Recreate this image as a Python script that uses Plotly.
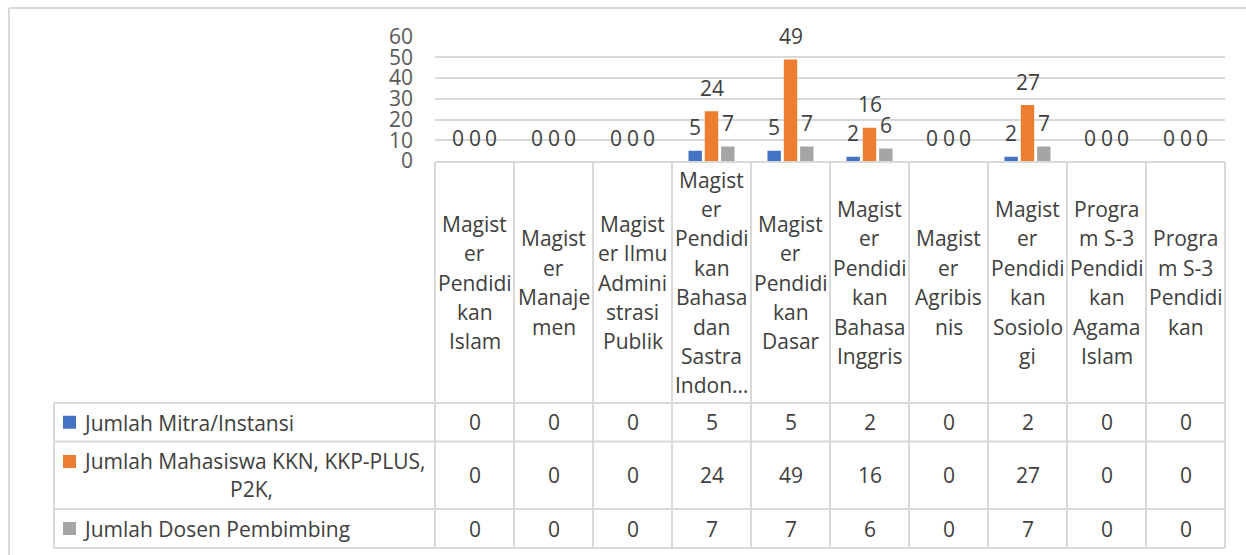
import plotly.graph_objects as go

W, H = 1246, 555

# ---------------- data ----------------
categories = [
    "Magist<br>er<br>Pendidi<br>kan<br>Islam",
    "Magist<br>er<br>Manaje<br>men",
    "Magist<br>er Ilmu<br>Admini<br>strasi<br>Publik",
    "Magist<br>er<br>Pendidi<br>kan<br>Bahasa<br>dan<br>Sastra<br>Indon…",
    "Magist<br>er<br>Pendidi<br>kan<br>Dasar",
    "Magist<br>er<br>Pendidi<br>kan<br>Bahasa<br>Inggris",
    "Magist<br>er<br>Agribis<br>nis",
    "Magist<br>er<br>Pendidi<br>kan<br>Sosiolo<br>gi",
    "Progra<br>m S-3<br>Pendidi<br>kan<br>Agama<br>Islam",
    "Progra<br>m S-3<br>Pendidi<br>kan",
]
series_names = [
    "Jumlah Mitra/Instansi",
    "Jumlah Mahasiswa KKN, KKP-PLUS,<br>P2K,",
    "Jumlah Dosen Pembimbing",
]
mitra = [0, 0, 0, 5, 5, 2, 0, 2, 0, 0]
mahasiswa = [0, 0, 0, 24, 49, 16, 0, 27, 0, 0]
dosen = [0, 0, 0, 7, 7, 6, 0, 7, 0, 0]
series_values = [mitra, mahasiswa, dosen]
series_colors = ["#4472C4", "#ED7D31", "#A5A5A5"]
y_ticks = [0, 10, 20, 30, 40, 50, 60]

# ---------------- layout helpers ----------------
def px(x):
    return x / W

def py(y):
    return 1 - y / H

FONT = "Open Sans"
FS = 21
TXT = "#404040"
GRID = "#D9D9D9"

plot_left, plot_right = 435, 1225
y_zero_px, y_top_px = 161, 36.7
col_w = (plot_right - plot_left) / len(categories)
header_top, header_bot = 162, 403
row_bounds = [403, 441.5, 509, 548]
legend_left = 54

fig = go.Figure()
x_idx = list(range(len(categories)))
for name, vals, col in zip(series_names, series_values, series_colors):
    fig.add_trace(go.Bar(x=x_idx, y=vals, name=name.replace("<br>", " "),
                         marker=dict(color=col, line=dict(width=0)),
                         showlegend=False, hoverinfo="skip"))

annotations = []
slot = (1 - 0.38) / 3
offsets = [-slot, 0, slot]
for s, vals in enumerate(series_values):
    for i, v in enumerate(vals):
        annotations.append(dict(x=i + offsets[s], xref="x", y=v, yref="y",
                                text=str(v), showarrow=False, yshift=23.5,
                                xanchor="center", yanchor="middle",
                                font=dict(family=FONT, size=FS, color=TXT)))

# category header labels (one line per annotation)
line_h = 29.4
header_mid = 282.5
for i, cat in enumerate(categories):
    lines = cat.split("<br>")
    n = len(lines)
    cx = plot_left + col_w * (i + 0.5)
    for k, ln in enumerate(lines):
        yc = header_mid + (k - (n - 1) / 2) * line_h
        annotations.append(dict(x=px(cx), xref="paper", y=py(yc), yref="paper",
                                text=ln, showarrow=False, xanchor="center",
                                yanchor="middle",
                                font=dict(family=FONT, size=FS, color=TXT)))

# data table values
for r, vals in enumerate(series_values):
    yc = (row_bounds[r] + row_bounds[r + 1]) / 2
    for i, v in enumerate(vals):
        cx = plot_left + col_w * (i + 0.5)
        annotations.append(dict(x=px(cx), xref="paper", y=py(yc), yref="paper",
                                text=str(v), showarrow=False, xanchor="center",
                                yanchor="middle",
                                font=dict(family=FONT, size=FS, color=TXT)))

shapes = []
# legend entries in the table
for r, (name, col) in enumerate(zip(series_names, series_colors)):
    yc = (row_bounds[r] + row_bounds[r + 1]) / 2
    lines = name.split("<br>")
    if len(lines) == 1:
        annotations.append(dict(x=px(81), xref="paper", y=py(yc + 0.5), yref="paper",
                                text=name, showarrow=False, xanchor="left",
                                yanchor="middle",
                                font=dict(family=FONT, size=FS, color=TXT)))
        my = yc
    else:
        l1y = yc - 13.8
        l2y = yc + 13.8
        annotations.append(dict(x=px(81), xref="paper", y=py(l1y), yref="paper",
                                text=lines[0], showarrow=False, xanchor="left",
                                yanchor="middle",
                                font=dict(family=FONT, size=FS, color=TXT)))
        annotations.append(dict(x=px(251), xref="paper", y=py(l2y), yref="paper",
                                text=lines[1], showarrow=False, xanchor="center",
                                yanchor="middle",
                                font=dict(family=FONT, size=FS, color=TXT)))
        my = l1y
    shapes.append(dict(type="rect", xref="paper", yref="paper",
                       x0=px(63), x1=px(76), y0=py(my - 6.5), y1=py(my + 6.5),
                       fillcolor=col, line=dict(width=0)))

def hline(x0, x1, y):
    shapes.append(dict(type="line", xref="paper", yref="paper", x0=px(x0), x1=px(x1),
                       y0=py(y), y1=py(y), line=dict(color=GRID, width=2)))

def vline(x, y0, y1):
    shapes.append(dict(type="line", xref="paper", yref="paper", x0=px(x), x1=px(x),
                       y0=py(y0), y1=py(y1), line=dict(color=GRID, width=2)))

# outer frame
hline(9, W, 8)
vline(9, 8, H)
# header row
hline(plot_left, plot_right, header_top)
for i in range(len(categories) + 1):
    vline(plot_left + col_w * i, header_top, row_bounds[-1])
# data rows
for yb in row_bounds:
    hline(legend_left, plot_right, yb)
vline(legend_left, row_bounds[0], row_bounds[-1])

fig.update_layout(
    width=W, height=H, autosize=False,
    margin=dict(l=0, r=0, t=0, b=0, pad=0, autoexpand=False),
    paper_bgcolor="white", plot_bgcolor="white",
    barmode="group", bargap=0.38, bargroupgap=0.18,
    xaxis=dict(domain=[px(plot_left), px(plot_right)], range=[-0.5, len(categories) - 0.5],
               showticklabels=False, showgrid=False, zeroline=False, showline=False,
               automargin=False),
    yaxis=dict(domain=[py(y_zero_px), py(y_top_px)], range=[0, 60],
               tickvals=y_ticks, ticktext=[str(t) for t in y_ticks],
               showgrid=True, gridcolor=GRID, gridwidth=1.5, zeroline=False,
               showline=False, ticks="", ticklabelstandoff=21, automargin=False,
               tickfont=dict(family=FONT, size=FS, color="#595959")),
    annotations=annotations,
    shapes=shapes,
    font=dict(family=FONT),
)

fig.write_html("out.html", config={"responsive": False, "displayModeBar": False},
               post_script="document.body.style.margin='0';document.body.style.overflow='hidden';")
